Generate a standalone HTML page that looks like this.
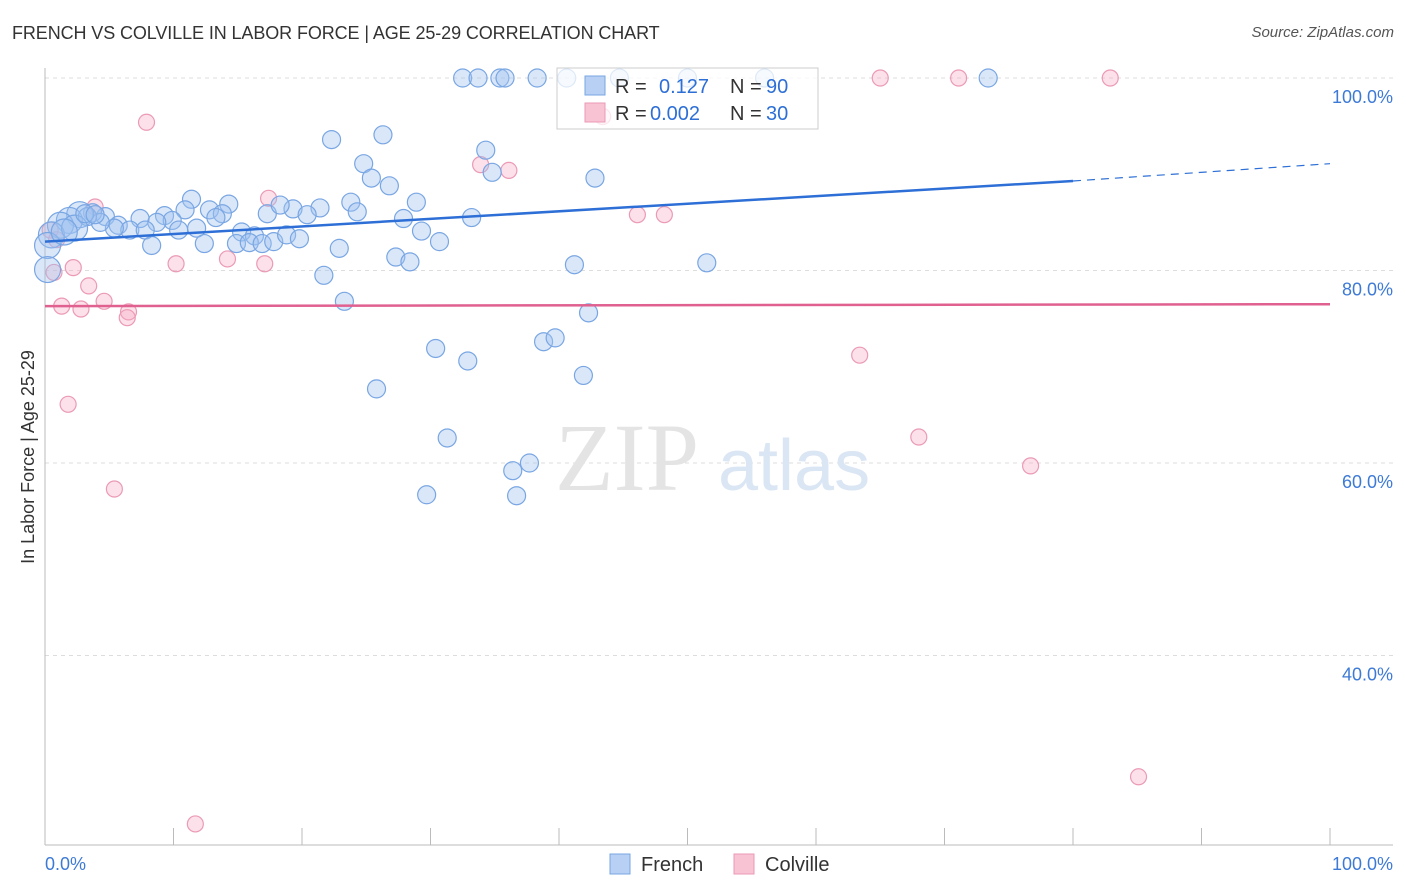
<!DOCTYPE html>
<html><head><meta charset="utf-8">
<style>
body{margin:0;background:#fff;font-family:"Liberation Sans",sans-serif}
#wrap{position:relative;width:1406px;height:892px;overflow:hidden}
.t{position:absolute;white-space:nowrap}
</style></head>
<body>
<div id="wrap">
<div class="t" style="left:12px;top:23px;font-size:18px;color:#333;letter-spacing:-0.1px">FRENCH VS COLVILLE IN LABOR FORCE | AGE 25-29 CORRELATION CHART</div>
<div class="t" style="right:12px;top:24px;font-size:15px;color:#555;font-style:italic">Source: ZipAtlas.com</div>
<svg id="chart" width="1406" height="892" style="position:absolute;left:0;top:0"></svg>
</div>
<script>
const frenchX=[32.5,33.7,35.4,35.8,38.3,40.6,44.7,50.0,56.0,73.4,22.3,26.3,34.3,24.8,34.8,25.4,26.8,42.8,11.4,14.3,23.8,28.9,12.8,10.9,24.3,19.3,21.4,17.3,18.3,20.4,13.8,13.3,9.3,9.9,7.4,8.7,4.7,3.7,2.7,1.9,1.2,0.5,0.2,0.2,5.7,6.6,7.8,10.4,11.8,15.3,16.3,14.9,15.9,16.9,17.8,18.8,19.8,22.9,27.9,33.2,29.3,30.7,27.3,28.4,8.3,12.4,21.7,41.2,51.5,23.3,42.3,30.4,38.8,39.7,32.9,25.8,41.9,31.3,37.7,36.4,29.7,36.7,5.4,4.3,3.3,2.3,1.5,3.1,3.9];
const frenchY=[100,100,100,100,100,100,100,100,100,100,93.6,94.1,92.5,91.1,90.2,89.6,88.8,89.6,87.4,86.9,87.1,87.1,86.3,86.3,86.1,86.4,86.5,85.9,86.8,85.8,85.9,85.5,85.7,85.2,85.4,85.0,85.6,86.0,85.8,85.2,84.7,83.7,82.6,80.1,84.7,84.2,84.2,84.2,84.4,84.0,83.6,82.8,82.9,82.8,83.0,83.7,83.3,82.3,85.4,85.5,84.1,83.0,81.4,80.9,82.6,82.8,79.5,80.6,80.8,76.8,75.6,71.9,72.6,73.0,70.6,67.7,69.1,62.6,60.0,59.2,56.7,56.6,84.4,85.0,85.6,84.4,84.0,85.9,85.8];
const colvilleX=[65.0,71.1,82.9,7.9,43.4,33.9,36.1,17.4,3.9,46.1,48.2,0.4,0.9,2.2,0.7,10.2,14.2,17.1,3.4,4.6,1.3,2.8,6.5,6.4,63.4,1.8,68.0,76.7,5.4,85.1,11.7];
const colvilleY=[100,100,100,95.4,96.0,91.0,90.4,87.5,86.6,85.8,85.8,84.2,83.2,80.3,79.8,80.7,81.2,80.7,78.4,76.8,76.3,76.0,75.7,75.1,71.2,66.1,62.7,59.7,57.3,27.4,22.5];
const yTicks=[100,80,60,40];
const yTickLabels=["100.0%","80.0%","60.0%","40.0%"];
const frenchTrend=[83.0,89.3,91.1];
const colvilleTrend=[76.3,76.5];

const X=v=>45+v*12.85, Y=v=>78+(100-v)*9.625;
const svg=document.getElementById('chart'), NS='http://www.w3.org/2000/svg';
function mk(tag,attrs,parent){const e=document.createElementNS(NS,tag);for(const k in attrs)e.setAttribute(k,attrs[k]);(parent||svg).appendChild(e);return e;}
yTicks.forEach((t,i)=>{
 const g=mk('line',{x1:45,x2:1393,y1:Y(t),y2:Y(t),stroke:'#ddd','stroke-dasharray':'4,4'});
 
 
 const tx=mk('text',{x:1393,y:Y(t)+25,'text-anchor':'end','font-size':18,fill:'#3d7ad6','font-family':'Liberation Sans'});
 tx.textContent=yTickLabels[i];
 
 
});
const ax=mk('line',{x1:45,x2:45,y1:68,y2:845,stroke:'#bbb'});


const bx=mk('line',{x1:45,x2:1393,y1:845,y2:845,stroke:'#bbb'});


for(let i=0;i<=10;i++){const tk=mk('line',{x1:X(i*10),x2:X(i*10),y1:828,y2:845,stroke:'#bbb'});
 
 }
const xl0=mk('text',{x:45,y:870,'font-size':18,fill:'#3d7ad6','font-family':'Liberation Sans'});xl0.textContent='0.0%';


const xl1=mk('text',{x:1393,y:870,'text-anchor':'end','font-size':18,fill:'#3d7ad6','font-family':'Liberation Sans'});xl1.textContent='100.0%';


const yt=mk('text',{x:34,y:457,'text-anchor':'middle','font-size':18,fill:'#333','font-family':'Liberation Sans',transform:'rotate(-90 34 457)'});yt.textContent='In Labor Force | Age 25-29';


const wm=mk('text',{x:555,y:490,'font-size':96,fill:'#e4e4e4','font-family':'Liberation Serif'});wm.textContent='ZIP';


const wm2=mk('text',{x:718,y:490,'font-size':72,fill:'#dbe6f5','font-family':'Liberation Sans'});wm2.textContent='atlas';


colvilleX.forEach((v,i)=>{const c=mk('circle',{cx:X(v),cy:Y(colvilleY[i]),r:8,fill:'rgba(245,170,195,0.35)',stroke:'#eb9ab5','stroke-width':1.2});
 
 });
frenchX.forEach((v,i)=>{const r=v<3?13:9;const c=mk('circle',{cx:X(v),cy:Y(frenchY[i]),r:r,fill:'rgba(160,195,240,0.4)',stroke:'#79a6e3','stroke-width':1.2});
 
 });
const l1=mk('line',{x1:X(0),y1:Y(frenchTrend[0]),x2:X(80),y2:Y(frenchTrend[1]),stroke:'#2d6fd6','stroke-width':2.5});


const l2=mk('line',{x1:X(80),y1:Y(frenchTrend[1]),x2:X(100),y2:Y(frenchTrend[2]),stroke:'#2d6fd6','stroke-width':1.2,'stroke-dasharray':'8,6'});


const l3=mk('line',{x1:X(0),y1:Y(colvilleTrend[0]),x2:X(100),y2:Y(colvilleTrend[1]),stroke:'#e06090','stroke-width':2.5});


const lb=mk('rect',{x:557,y:68,width:261,height:61,fill:'rgba(255,255,255,0.75)',stroke:'#ccc'});


const s1=mk('rect',{x:585,y:76,width:20,height:19,fill:'#b7d0f3',stroke:'#79a6e3'});


const s2=mk('rect',{x:585,y:103,width:20,height:19,fill:'#f8c3d3',stroke:'#eb9ab5'});


function lt(x,y,txt,col,name){const t=mk('text',{x:x,y:y,'font-size':20,fill:col,'font-family':'Liberation Sans'});t.textContent=txt;
 
 }
lt(615,93,'R =','#333','r-label');lt(659,93,'0.127','#2d6fd6','french-r');lt(730,93,'N =','#333','n-label');lt(766,93,'90','#2d6fd6','french-n');
lt(615,120,'R =','#333','r-label');lt(650,120,'0.002','#2d6fd6','colville-r');lt(730,120,'N =','#333','n-label');lt(766,120,'30','#2d6fd6','colville-n');
const b1=mk('rect',{x:610,y:854,width:20,height:20,fill:'#b7d0f3',stroke:'#79a6e3'});


lt(641,871,'French','#333','legend-french');
const b2=mk('rect',{x:734,y:854,width:20,height:20,fill:'#f8c3d3',stroke:'#eb9ab5'});


lt(765,871,'Colville','#333','legend-colville');
</script>
</body></html>
